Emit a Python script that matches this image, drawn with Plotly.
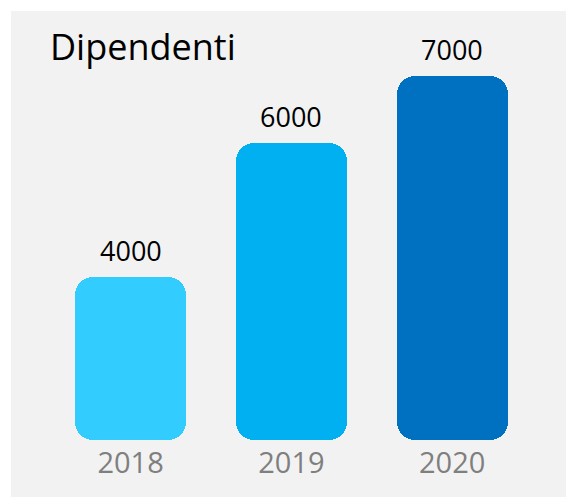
import plotly.graph_objects as go

# ---- data ----
years = ["2018", "2019", "2020"]
employees = [4000, 6000, 7000]
bar_colors = ["#33CCFF", "#00B0F0", "#0070C0"]
title_text = "Dipendenti"

# ---- layout constants (page body adds an 8px offset) ----
W, H = 566, 489
M_L, M_R, M_T, M_B = 3, 0, 12, 57
y_floor = 1567       # value at the bottom of the bars (axis baseline)
y_top = 7836
bar_w = 0.69
radius = 18
font_family = "Open Sans, Noto Sans, sans-serif"

fig = go.Figure()
fig.add_trace(go.Bar(
    x=years,
    y=[v - y_floor for v in employees],
    base=y_floor,
    width=bar_w,
    marker=dict(color=bar_colors, cornerradius=radius, line=dict(width=0)),
    hoverinfo="skip",
    showlegend=False,
))

for i, v in enumerate(employees):
    fig.add_annotation(
        x=i, y=v, xref="x", yref="y",
        text=str(v), showarrow=False,
        yanchor="bottom", yshift=6,
        font=dict(family=font_family, size=27, color="#000000"),
    )

plot_h = H - M_T - M_B
fig.add_shape(
    type="rect", xref="paper", yref="paper", layer="below",
    x0=0, x1=1, y0=-M_B / plot_h, y1=1 + (M_T - 3) / plot_h,
    fillcolor="#F2F2F2", line=dict(width=0),
)

fig.update_layout(
    width=W, height=H, autosize=False,
    margin=dict(l=M_L, r=M_R, t=M_T, b=M_B, pad=0),
    paper_bgcolor="#FFFFFF",
    plot_bgcolor="#F2F2F2",
    barmode="overlay",
    bargap=0,
    title=dict(
        text=title_text,
        font=dict(family=font_family, size=36, color="#000000"),
        xref="container", yref="container",
        x=42 / W, xanchor="left",
        y=1 - 39 / H, yanchor="middle",
    ),
    xaxis=dict(
        type="category",
        range=[-0.744, 2.758],
        showgrid=False, zeroline=False, showline=False,
        ticks="",
        ticklabelstandoff=3,
        tickfont=dict(family=font_family, size=29, color="#7F7F7F"),
    ),
    yaxis=dict(
        range=[y_floor, y_top],
        visible=False, showgrid=False, zeroline=False,
    ),
)

fig.write_html("out.html")
